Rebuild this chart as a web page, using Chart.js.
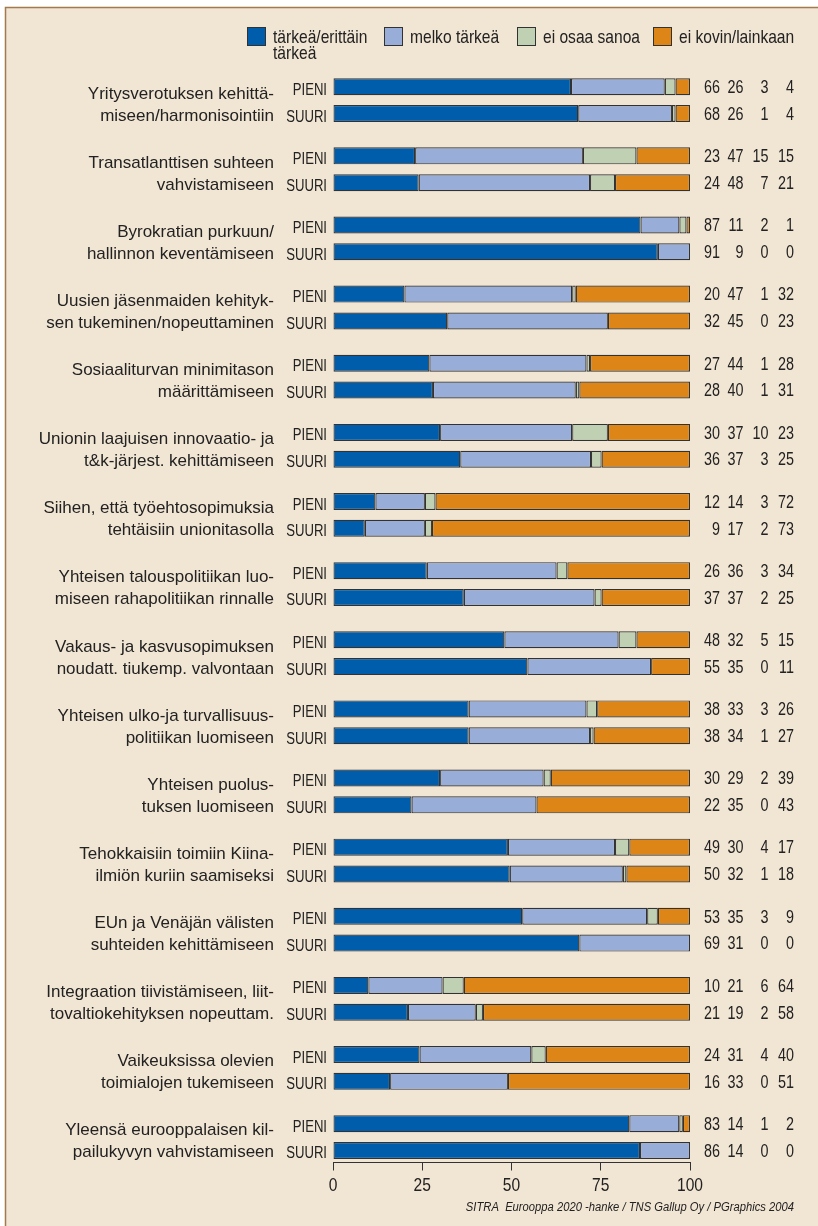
<!DOCTYPE html>
<html>
<head>
<meta charset="utf-8">
<script src="https://cdn.jsdelivr.net/npm/chart.js@4.4.0/dist/chart.umd.min.js"></script>
<style>
  html, body { margin: 0; padding: 0; background: #ffffff; }
  #wrap { width: 818px; height: 1226px; position: relative; }
  canvas { display: block; }
</style>
</head>
<body>
<div id="wrap"><canvas id="c" width="818" height="1226"></canvas></div>
<script>
// ---------- DATA ----------
const questions = [
  ['Yritysverotuksen kehittä-', 'miseen/harmonisointiin'],
  ['Transatlanttisen suhteen', 'vahvistamiseen'],
  ['Byrokratian purkuun/', 'hallinnon keventämiseen'],
  ['Uusien jäsenmaiden kehityk-', 'sen tukeminen/nopeuttaminen'],
  ['Sosiaaliturvan minimitason', 'määrittämiseen'],
  ['Unionin laajuisen innovaatio- ja', 't&k-järjest. kehittämiseen'],
  ['Siihen, että työehtosopimuksia', 'tehtäisiin unionitasolla'],
  ['Yhteisen talouspolitiikan luo-', 'miseen rahapolitiikan rinnalle'],
  ['Vakaus- ja kasvusopimuksen', 'noudatt. tiukemp. valvontaan'],
  ['Yhteisen ulko-ja turvallisuus-', 'politiikan luomiseen'],
  ['Yhteisen puolus-', 'tuksen luomiseen'],
  ['Tehokkaisiin toimiin Kiina-', 'ilmiön kuriin saamiseksi'],
  ['EUn ja Venäjän välisten', 'suhteiden kehittämiseen'],
  ['Integraation tiivistämiseen, liit-', 'tovaltiokehityksen nopeuttam.'],
  ['Vaikeuksissa olevien', 'toimialojen tukemiseen'],
  ['Yleensä eurooppalaisen kil-', 'pailukyvyn vahvistamiseen']
];
const sizeLabels = ['PIENI', 'SUURI'];
const seriesLabels = [['tärkeä/erittäin', 'tärkeä'], ['melko tärkeä'], ['ei osaa sanoa'], ['ei kovin/lainkaan']];

const tarkeaPieni  = [66, 23, 87, 20, 27, 30, 12, 26, 48, 38, 30, 49, 53, 10, 24, 83];
const tarkeaSuuri  = [68, 24, 91, 32, 28, 36,  9, 37, 55, 38, 22, 50, 69, 21, 16, 86];
const melkoPieni   = [26, 47, 11, 47, 44, 37, 14, 36, 32, 33, 29, 30, 35, 21, 31, 14];
const melkoSuuri   = [26, 48,  9, 45, 40, 37, 17, 37, 35, 34, 35, 32, 31, 19, 33, 14];
const eiOsaaPieni  = [ 3, 15,  2,  1,  1, 10,  3,  3,  5,  3,  2,  4,  3,  6,  4,  1];
const eiOsaaSuuri  = [ 1,  7,  0,  0,  1,  3,  2,  2,  0,  1,  0,  1,  0,  2,  0,  0];
const eiKovinPieni = [ 4, 15,  1, 32, 28, 23, 72, 34, 15, 26, 39, 17,  9, 64, 40,  2];
const eiKovinSuuri = [ 4, 21,  0, 23, 31, 25, 73, 25, 11, 27, 43, 18,  0, 58, 51,  0];

const xTicks = [0, 25, 50, 75, 100];
const sourceText = 'SITRA  Eurooppa 2020 -hanke / TNS Gallup Oy / PGraphics 2004';

// ---------- BUILD ----------
const colors = ['#005dab', '#98aed9', '#c0d0b3', '#dd8617'];
const SUB_OFFSET = 0.388;   // relative offset of the SUURI bar inside a group (layout)
const seriesPieni = [tarkeaPieni, melkoPieni, eiOsaaPieni, eiKovinPieni];
const seriesSuuri = [tarkeaSuuri, melkoSuuri, eiOsaaSuuri, eiKovinSuuri];

function rowPos(g, s) { return g + s * SUB_OFFSET; }
function rowTotal(arrs, g) { return arrs.reduce((a, arr) => a + arr[g], 0); }

const datasets = seriesLabels.map((lab, k) => {
  const data = [];
  questions.forEach((q, g) => {
    const tp = rowTotal(seriesPieni, g), ts = rowTotal(seriesSuuri, g);
    data.push({ x: seriesPieni[k][g] * 100 / tp, y: rowPos(g, 0) });
    data.push({ x: seriesSuuri[k][g] * 100 / ts, y: rowPos(g, 1) });
  });
  return {
    label: lab.join(' '),
    data,
    backgroundColor: colors[k],
    borderColor: '#323232',
    borderWidth: 1.2,
    borderSkipped: false,
    inflateAmount: 0,
    barThickness: 17
  };
});

const SANS = '"Liberation Sans", Arial, Helvetica, sans-serif';
const TXT = '#222222';
const NARROW = 0.82;

function narrowText(ctx, text, x, y, size, align, italic) {
  ctx.save();
  ctx.translate(x, y);
  ctx.scale(NARROW, 1);
  ctx.font = (italic ? 'italic ' : '') + size + 'px ' + SANS;
  ctx.textAlign = align;
  ctx.textBaseline = 'alphabetic';
  ctx.fillText(text, 0, 0);
  ctx.restore();
}

const decorPlugin = {
  id: 'decor',
  beforeDraw(chart) {
    const ctx = chart.ctx;
    ctx.save();
    ctx.fillStyle = '#ffffff';
    ctx.fillRect(0, 0, chart.width, chart.height);
    ctx.fillStyle = '#f1e5d3';
    ctx.fillRect(5, 7, chart.width - 5, chart.height - 7);
    ctx.strokeStyle = '#a27a4c';
    ctx.lineWidth = 1.5;
    ctx.beginPath();
    ctx.moveTo(5.5, chart.height);
    ctx.lineTo(5.5, 7.5);
    ctx.lineTo(chart.width, 7.5);
    ctx.stroke();
    ctx.restore();
  },
  afterDraw(chart) {
    const ctx = chart.ctx;
    const yS = chart.scales.y;
    const xS = chart.scales.x;
    ctx.save();
    ctx.fillStyle = TXT;
    // legend
    const legX = [247, 384, 517, 653];
    chart.data.datasets.forEach((ds, k) => {
      const x = legX[k];
      ctx.fillStyle = ds.backgroundColor;
      ctx.fillRect(x, 27, 19, 19);
      ctx.strokeStyle = '#323232';
      ctx.lineWidth = 1;
      ctx.strokeRect(x + 0.5, 27.5, 18, 18);
      ctx.fillStyle = TXT;
      seriesLabels[k].forEach((line, i) => narrowText(ctx, line, x + 26, 42.5 + i * 16.6, 19, 'left'));
    });
    // question labels, size labels, values
    const colX = [720, 743.5, 768.5, 794];
    questions.forEach((q, g) => {
      const yp = yS.getPixelForValue(rowPos(g, 0));
      const ys = yS.getPixelForValue(rowPos(g, 1));
      ctx.fillStyle = TXT;
      ctx.textAlign = 'right';
      ctx.textBaseline = 'alphabetic';
      ctx.font = '17px ' + SANS;
      ctx.fillText(q[0], 274, ys + 7 - 22);
      ctx.fillText(q[1], 274, ys + 7);
      narrowText(ctx, sizeLabels[0], 327, yp + 8, 16, 'right');
      narrowText(ctx, sizeLabels[1], 327, ys + 8, 16, 'right');
      [seriesPieni, seriesSuuri].forEach((ser, s) => {
        const yy = s === 0 ? yp : ys;
        ser.forEach((arr, k) => narrowText(ctx, String(arr[g]), colX[k], yy + 6.3, 17.5, 'right'));
      });
    });
    // x tick labels (positions from the library's x scale)
    xS.ticks.forEach(t => {
      narrowText(ctx, String(t.value), xS.getPixelForValue(t.value), 1191, 19, 'center');
    });
    // source
    narrowText(ctx, sourceText, 794, 1211, 13.7, 'right', true);
    ctx.restore();
  }
};

const chart = new Chart(document.getElementById('c'), {
  type: 'bar',
  data: { datasets },
  options: {
    indexAxis: 'y',
    responsive: false,
    animation: false,
    devicePixelRatio: 1,
    layout: { padding: { left: 333, right: 128, top: 66, bottom: 23.5 } },
    plugins: { legend: { display: false }, tooltip: { enabled: false } },
    scales: {
      x: {
        type: 'linear',
        stacked: true,
        min: 0, max: 100,
        offset: false,
        afterBuildTicks(scale) { scale.ticks = xTicks.map(v => ({ value: v })); },
        afterFit(scale) { scale.height = 40; },
        grid: { display: true, drawOnChartArea: false, drawTicks: true, tickLength: 8, color: '#333333', lineWidth: 1 },
        border: { display: true, color: '#333333', width: 1 },
        ticks: { display: false }
      },
      y: {
        type: 'linear',
        stacked: true,
        reverse: true,
        offset: false,
        min: -0.3, max: 15.562,
        display: false
      }
    }
  },
  plugins: [decorPlugin]
});
</script>
</body>
</html>
